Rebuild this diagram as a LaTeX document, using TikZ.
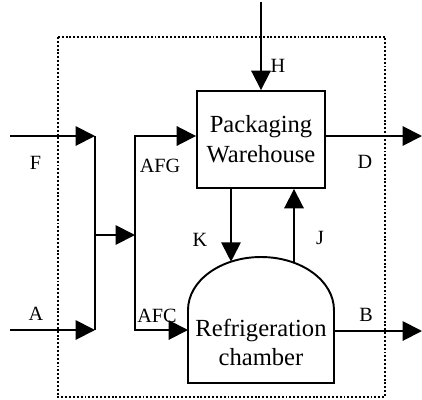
\documentclass[tikz,border=0pt]{standalone}
\usepackage{fontspec}
\setmainfont{Liberation Serif}
\usetikzlibrary{arrows.meta,positioning}
\tikzstyle{every node}=[inner sep=0pt]
\tikzstyle{unit}=[draw,line width=1.1pt,align=center,font=\fontsize{14pt}{17pt}\selectfont]
\tikzstyle{flow}=[line width=1.1pt,-{Triangle[length=11pt,width=11pt]}]
\tikzstyle{pipe}=[line width=1.1pt]
\tikzstyle{tag}=[font=\fontsize{11.5pt}{13pt}\selectfont]
\tikzstyle{border}=[line width=1.1pt,dash pattern=on 1.1pt off 1.1pt]

\begin{document}
\begin{tikzpicture}[x=0.02cm,y=-0.02cm]
  \useasboundingbox (0,0) rectangle (422,399);
  \draw[border] (58,37) rectangle (385,397);
  \node[unit,minimum width=2.56cm,minimum height=1.94cm] (pack) at (261,139.5) {Packaging\\Warehouse};
  \draw[pipe] (188,383) -- (188,310) arc[start angle=180,end angle=0,x radius=1.46cm,y radius=1.06cm] -- (334,383) -- cycle;
  \node[unit,draw=none] (chamber) at (261,342.5) {Refrigeration\\chamber};
  \coordinate (fin) at (10,136);
  \coordinate (ain) at (10,330);
  \coordinate (top1) at (95,136);
  \coordinate (bot1) at (95,330);
  \coordinate (mix1) at (95,235);
  \coordinate (mix2) at (135,235);
  \coordinate (top2) at (135,136);
  \coordinate (cin) at (188,330);
  \coordinate (cout) at (334,331);
  \coordinate (hin) at (261,2);
  \coordinate (dout) at (422,136);
  \coordinate (bout) at (422,331);
  \coordinate (kend) at (231,261.7);
  \coordinate (jstart) at (294,262.7);
  \draw[flow] (fin) -- (top1);
  \draw[flow] (ain) -- (bot1);
  \draw[pipe] (top1) -- (bot1);
  \draw[flow] (mix1) -- (mix2);
  \draw[flow] (mix2) |- (pack.west |- top2);
  \draw[flow] (mix2) |- (cin);
  \draw[flow] (hin) -- (pack.north);
  \draw[flow] (pack.east |- dout) -- (dout);
  \draw[flow] (pack.south -| kend) -- (kend);
  \draw[flow] (jstart) -- (pack.south -| jstart);
  \draw[flow] (cout) -- (bout);
  \node[tag] (lf) at (35.5,163) {F};
  \node[tag] (la) at (36,314) {A};
  \node[tag] (lafg) at (160,166) {AFG};
  \node[tag] (lafc) at (157,316) {AFC};
  \node[tag] (lh) at (278,66) {H};
  \node[tag] (ld) at (365,162) {D};
  \node[tag] (lk) at (200,240) {K};
  \node[tag] (lj) at (320,238) {J};
  \node[tag] (lb) at (366,315) {B};
\end{tikzpicture}
\end{document}
